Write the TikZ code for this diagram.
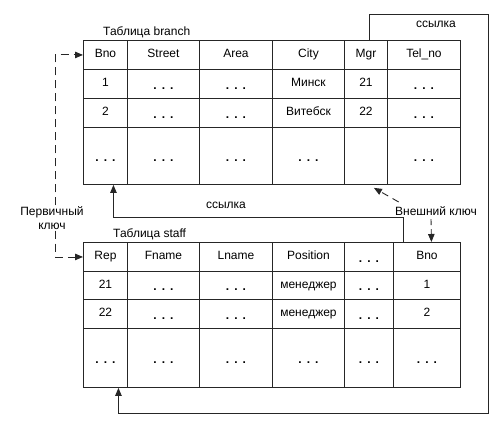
\documentclass[tikz,border=0pt]{standalone}
\usepackage{fontspec}
\setmainfont{Liberation Sans}
\usetikzlibrary{arrows.meta}
\usetikzlibrary{positioning}
\usetikzlibrary{calc}

\newcommand{\dts}{\raisebox{-2.5pt}{\textbf{.\kern5pt.\kern5pt.}}}

\begin{document}
\begin{tikzpicture}[x = 1pt, y = -1pt, font = \fontsize{12}{14}\selectfont,
	cell/.style = {draw = black!85, line width = 0.9pt, inner sep = 0pt, anchor = north west, text height = 8.5pt, text depth = 2.5pt},
	ref/.style = {draw = black!85, line width = 0.9pt, -{Triangle[length = 8pt, width = 6.5pt]}},
	key/.style = {ref, dash pattern = on 8pt off 5pt}]
	
	\useasboundingbox (0,0) rectangle (502,427);
	
	% table branch
	\foreach \xa/\xb/\ha/\hb/\hc/\hd [count = \c] in {83/127/Bno/1/2/\dts, 127/199/Street/\dts/\dts/\dts, 199/272/Area/\dts/\dts/\dts, 272/344/City/Минск/Витебск/\dts, 344/387/Mgr/21/22/{}, 387/460/Tel\_no/\dts/\dts/\dts}{
		\foreach \ya/\yb/\t [count = \r] in {40/69/\ha, 69/98/\hb, 98/127/\hc, 127/184/\hd}{
			\node[cell, minimum width = {(\xb-\xa)*1pt}, minimum height = {(\yb-\ya)*1pt}] (b-\r-\c) at (\xa,\ya) {\t};
		}
	}
	\node[above right = 1pt and 19pt of b-1-1.north west, inner sep = 1pt, anchor = south west] (tb) {Таблица branch};
	
	% table staff
	\foreach \xa/\xb/\ha/\hb/\hc/\hd [count = \c] in {83/127/Rep/21/22/\dts, 127/199/Fname/\dts/\dts/\dts, 199/272/Lname/\dts/\dts/\dts, 272/344/Position/менеджер/менеджер/\dts, 344/393/\dts/\dts/\dts/\dts, 393/460/Bno/1/2/\dts}{
		\foreach \ya/\yb/\t [count = \r] in {242/271/\ha, 271/299/\hb, 299/328/\hc, 328/387/\hd}{
			\node[cell, minimum width = {(\xb-\xa)*1pt}, minimum height = {(\yb-\ya)*1pt}] (s-\r-\c) at (\xa,\ya) {\t};
		}
	}
	\node[above right = 1pt and 29pt of s-1-1.north west, inner sep = 1pt, anchor = south west] (ts) {Таблица staff};
	
	% links
	\coordinate (lk1) at (488,14);
	\coordinate (lk2) at (488,413);
	\draw[ref] ($(b-1-5.north)+(3.5,0)$) |- (lk1) -- (lk2) -| ($(s-4-1.south)+(13,0)$);
	\node (l1) at (436,24) {ссылка};
	
	\draw[ref] ($(s-1-6.north west)+(10,0)$) -- ++(0,-25) -| ($(b-4-1.south)+(8,0)$);
	\node (l2) at (226,205) {ссылка};
	
	% keys
	\node (fk) at (436,211) {Внешний ключ};
	\draw[key, dash pattern = on 7pt off 5pt] ($(fk.north west)+(7,-1)$) -- ($(b-4-5.south east)+(-14,3)$);
	\draw[key, dash pattern = on 6pt off 4pt] ($(fk.south)+(-5,0)$) -- ($(s-1-6.north)+(4.5,0)$);
	
	\node[align = center, inner sep = 1pt] (pk) at (52,218) {Первичный\\ключ};
	\draw[key] ($(pk.north)+(3,0)$) |- (b-1-1.west);
	\draw[key] ($(pk.south)+(3,0)$) |- (s-1-1.west);
	
\end{tikzpicture}
\end{document}
